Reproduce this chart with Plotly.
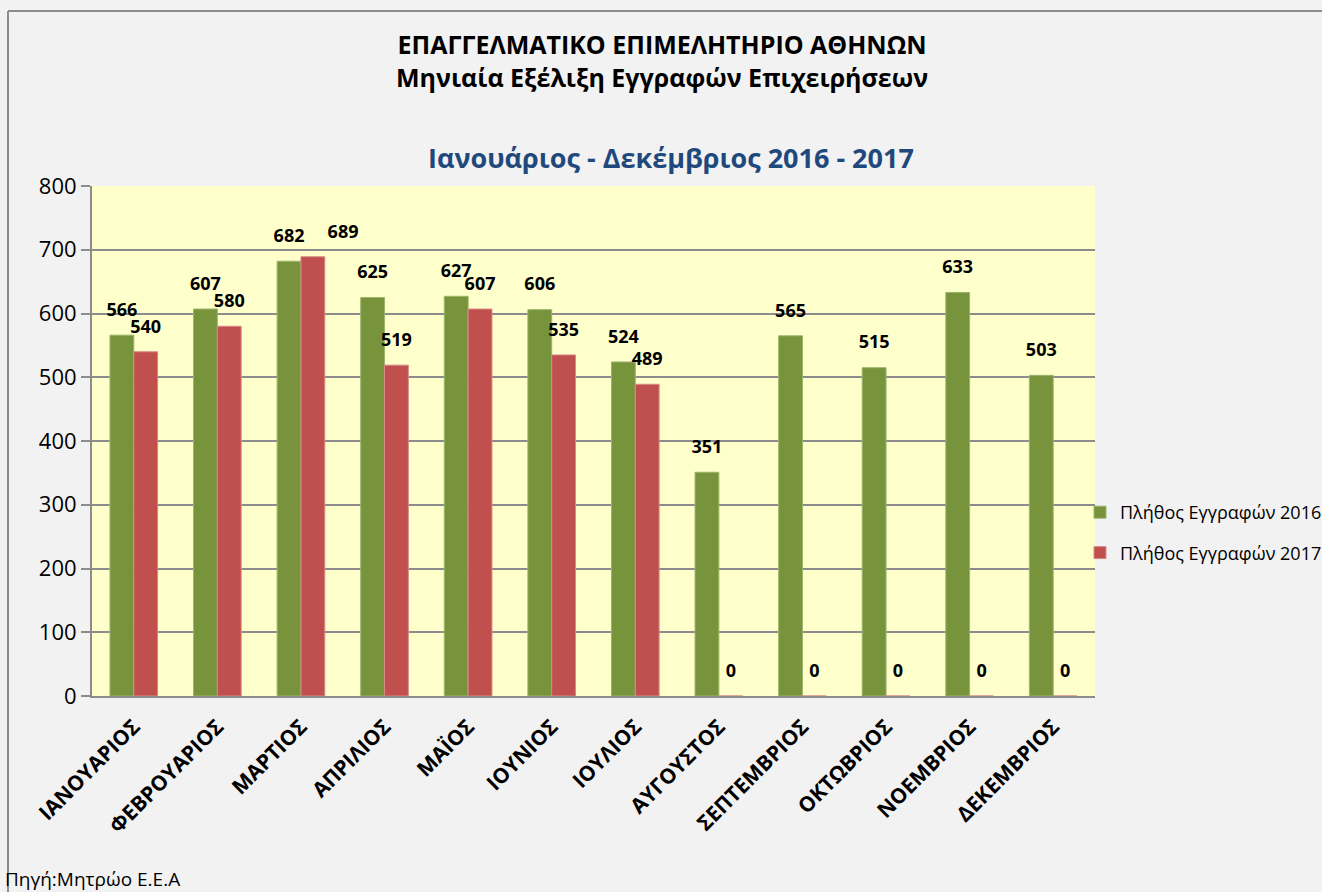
import plotly.graph_objects as go

months = ["ΙΑΝΟΥΑΡΙΟΣ", "ΦΕΒΡΟΥΑΡΙΟΣ", "ΜΑΡΤΙΟΣ", "ΑΠΡΙΛΙΟΣ", "ΜΑΪΟΣ", "ΙΟΥΝΙΟΣ",
          "ΙΟΥΛΙΟΣ", "ΑΥΓΟΥΣΤΟΣ", "ΣΕΠΤΕΜΒΡΙΟΣ", "ΟΚΤΩΒΡΙΟΣ", "ΝΟΕΜΒΡΙΟΣ", "ΔΕΚΕΜΒΡΙΟΣ"]
reg_2016 = [566, 607, 682, 625, 627, 606, 524, 351, 565, 515, 633, 503]
reg_2017 = [540, 580, 689, 519, 607, 535, 489, 0, 0, 0, 0, 0]
name_2016 = "Πλήθος Εγγραφών 2016"
name_2017 = "Πλήθος Εγγραφών 2017"
y_ticks = [0, 100, 200, 300, 400, 500, 600, 700, 800]

FONT = "Open Sans"
W, H = 1322, 892
L, R, T, B = 92, 227, 186, 196
PW, PH = W - L - R, H - T - B

def px(x):
    return (x - L) / PW

def py(y):
    return (H - B - y) / PH

# label placement (style only): shift the crowded March 2017 label to the right
pos_2016 = ["top center"] * len(months)
pos_2017 = ["top right" if m == "ΜΑΡΤΙΟΣ" else "top center" for m in months]

fig = go.Figure()
fig.add_trace(go.Bar(
    x=months, y=reg_2016, name=name_2016, legendgroup="a", offsetgroup="a",
    marker=dict(color="#77933C", line=dict(color="#9BB56A", width=1)),
))
fig.add_trace(go.Bar(
    x=months, y=reg_2017, name=name_2017, legendgroup="b", offsetgroup="b",
    marker=dict(color="#C0504D", line=dict(color="#D88A88", width=1)),
))
for vals, grp, pos in ((reg_2016, "a", pos_2016), (reg_2017, "b", pos_2017)):
    fig.add_trace(go.Scatter(
        x=months, y=vals, mode="markers+text", text=[str(v) for v in vals],
        offsetgroup=grp, textposition=pos, cliponaxis=False,
        marker=dict(size=22, opacity=0, color="rgba(0,0,0,0)"),
        textfont=dict(family=FONT, size=18, color="black", weight="bold"),
        showlegend=False, hoverinfo="skip",
    ))

fig.update_layout(
    width=W, height=H,
    margin=dict(l=L, r=R, t=T, b=B, autoexpand=False),
    paper_bgcolor="#F2F2F2",
    plot_bgcolor="#FFFFCC",
    barmode="group",
    scattermode="group",
    bargap=0.43,
    bargroupgap=0,
    font=dict(family=FONT, color="black"),
    showlegend=True,
    legend=dict(
        x=px(1080), y=py(494), xanchor="left", yanchor="top",
        font=dict(family=FONT, size=18, color="black"),
        bgcolor="rgba(0,0,0,0)", traceorder="grouped", tracegroupgap=14,
        itemwidth=30,
    ),
    xaxis=dict(
        tickangle=-45,
        tickfont=dict(family=FONT, size=21, color="black", weight="bold"),
        showline=True, linecolor="#8C8C8C", linewidth=2,
        ticks="", showgrid=False, ticklabelstandoff=8,
    ),
    yaxis=dict(
        range=[0, 800], tickvals=y_ticks,
        tickfont=dict(family=FONT, size=22, color="black"),
        showline=True, linecolor="#8C8C8C", linewidth=2,
        ticks="outside", ticklen=9, tickcolor="#8C8C8C", tickwidth=2,
        showgrid=True, gridcolor="#8C8C8C", gridwidth=2,
        zeroline=False,
    ),
    annotations=[
        dict(text="<b>ΕΠΑΓΓΕΛΜΑΤΙΚΟ ΕΠΙΜΕΛΗΤΗΡΙΟ ΑΘΗΝΩΝ</b><br><b>Μηνιαία Εξέλιξη Εγγραφών Επιχειρήσεων</b>",
             x=px(662), y=py(61),
             xref="paper", yref="paper", showarrow=False, yanchor="middle",
             font=dict(family=FONT, size=25, color="black")),
        dict(text="<b>Ιανουάριος - Δεκέμβριος 2016 - 2017</b>", x=px(671), y=py(157),
             xref="paper", yref="paper", showarrow=False, yanchor="middle",
             font=dict(family=FONT, size=27, color="#1F497D")),
        dict(text="Πηγή:Μητρώο Ε.Ε.Α", x=px(3), y=py(879),
             xref="paper", yref="paper", showarrow=False, xanchor="left", yanchor="middle",
             font=dict(family=FONT, size=19, color="black")),
    ],
    shapes=[
        dict(type="line", xref="paper", yref="paper", x0=px(8), x1=px(8), y0=py(11), y1=py(900),
             line=dict(color="#8C8C8C", width=2)),
        dict(type="line", xref="paper", yref="paper", x0=px(8), x1=px(1330), y0=py(11), y1=py(11),
             line=dict(color="#8C8C8C", width=2)),
    ],
)

fig.write_html(
    "out.html",
    config={"displayModeBar": False},
    post_script="document.body.style.margin='0';document.body.style.overflow='hidden';",
)
